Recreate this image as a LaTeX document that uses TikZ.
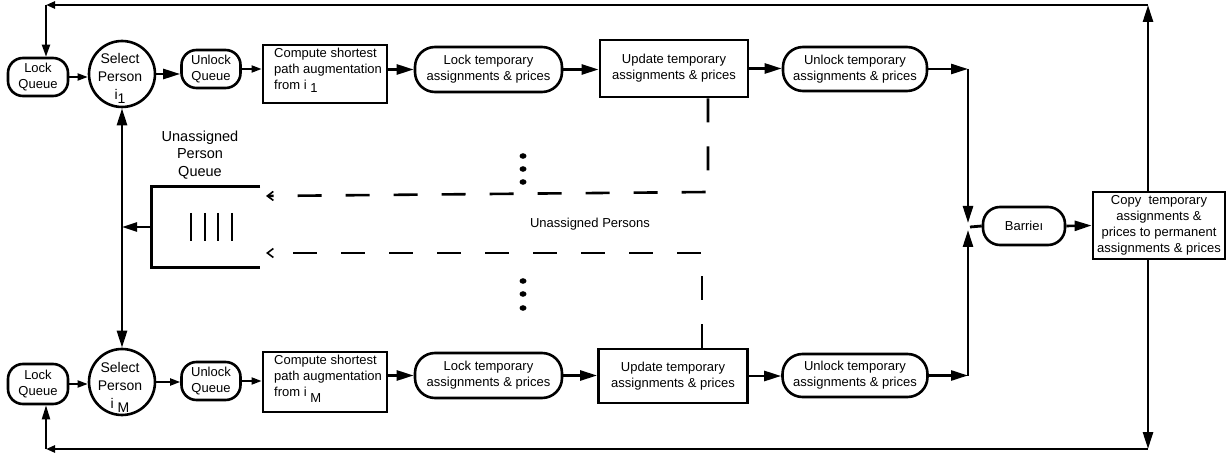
\documentclass[tikz,border=0pt]{standalone}
\usepackage{fontspec}
\setmainfont{Liberation Sans}
\usetikzlibrary{arrows.meta}

\begin{document}
\begin{tikzpicture}[x=1pt,y=-1pt,
  every node/.style={font=\fontsize{13}{16}\selectfont, inner sep=0pt, align=center},
  pill/.style={draw, line width=2.6pt, rounded corners=#1},
  pill/.default=18pt,
  rect/.style={draw, line width=2.8pt},
  circ/.style={draw, circle, line width=2.6pt, minimum size=66pt},
  ctext/.style={anchor=north, font=\fontsize{14}{18}\selectfont},
  link/.style={line width=2.6pt, -{Triangle[length=17pt,width=10pt]}},
  thinlink/.style={line width=1.8pt, -{Triangle[length=10pt,width=7pt]}},
  flow/.style={line width=2.8pt},
  dashflow/.style={line width=2.6pt, dash pattern=on 24pt off 24pt,
    -{Straight Barb[length=6pt,width=9pt,line width=1.6pt]}},
  dot/.style={fill=black}
]
\path[fill=white] (0,0) rectangle (1231,454);
\useasboundingbox (0,0) rectangle (1231,454);

% ---------- first processor (top row) ----------
\node[pill=15pt, minimum width=60pt, minimum height=38pt] (lq1) at (38,77) {Lock\\Queue};
\node[circ] (sp1) at (122,74) {};
\node[ctext] (sp1t) at (120,53) {Select\\Person\\i\raisebox{-4pt}{1}};
\node[pill=15pt, minimum width=59pt, minimum height=38pt] (uq1) at (211,69) {Unlock\\Queue};
\node[rect, minimum width=124pt, minimum height=58pt] (cp1) at (325,74) {};
\node[anchor=north west, align=left] (cp1t) at (274,48) {Compute shortest\\path augmentation\\from i \raisebox{-3pt}{1}};
\node[pill=20pt, minimum width=147pt, minimum height=45pt] (lt1) at (488.5,69.5) {Lock temporary\\assignments \& prices};
\node[rect, minimum width=148pt, minimum height=57pt] (ut1) at (674,68.5) {Update temporary\\assignments \& prices};
\node[pill=20pt, minimum width=144pt, minimum height=44pt] (nt1) at (855,69) {Unlock temporary\\assignments \& prices};

% ---------- M-th processor (bottom row) ----------
\node[pill=15pt, minimum width=60pt, minimum height=40pt] (lq2) at (38,384) {Lock\\Queue};
\node[circ] (sp2) at (122,382) {};
\node[ctext] (sp2t) at (120,362) {Select\\Person\\i \raisebox{-4pt}{M}};
\node[pill=15pt, minimum width=59pt, minimum height=38pt] (uq2) at (211,381) {Unlock\\Queue};
\node[rect, minimum width=124pt, minimum height=60pt] (cp2) at (325,382) {};
\node[anchor=north west, align=left] (cp2t) at (274,355) {Compute shortest\\path augmentation\\from i \raisebox{-6pt}{M}};
\node[pill=20pt, minimum width=147pt, minimum height=45pt] (lt2) at (488.5,375.5) {Lock temporary\\assignments \& prices};
\node[rect, minimum width=149pt, minimum height=54pt] (ut2) at (673,376) {Update temporary\\assignments \& prices};
\node[pill=20pt, minimum width=145pt, minimum height=43pt] (nt2) at (855,375.5) {Unlock temporary\\assignments \& prices};

% ---------- synchronisation ----------
\node[pill=17pt, minimum width=82pt, minimum height=38pt] (bar) at (1024,226) {Barrieı};
\node[rect, minimum width=132pt, minimum height=67pt] (cpy) at (1159,225.5)
  {Copy\ \ temporary\\assignments \&\\prices to permanent\\assignments \& prices};

% ---------- shared queue ----------
\node[minimum width=108pt, minimum height=80pt] (queue) at (206,227) {};
\node[font=\fontsize{14.5}{17.5}\selectfont] (qlabel) at (200,155) {Unassigned\\Person\\Queue};
\node (ulabel) at (590,224) {Unassigned Persons};

\draw[flow] (queue.north east) -- (queue.north west) -- (queue.south west) -- (queue.south east);
\foreach \x in {191,205,218,232} \draw[line width=2.6pt] (\x,213) -- (\x,241);

% ---------- row connectors ----------
\draw[thinlink] (lq1.east) -- (lq1.east -| sp1.west);
\draw[link] (sp1.east) -- (sp1.east -| uq1.west);
\draw[thinlink] (uq1.east) -- (uq1.east -| cp1.west);
\draw[link] (lt1.west -| cp1.east) -- (lt1.west);
\draw[link] (lt1.east) -- (lt1.east -| ut1.west);
\draw[link] (ut1.east) -- (ut1.east -| nt1.west);

\draw[thinlink] (lq2.east) -- (lq2.east -| sp2.west);
\draw[thinlink] (sp2.east) -- (sp2.east -| uq2.west);
\draw[thinlink] (uq2.east) -- (uq2.east -| cp2.west);
\draw[link] (lt2.west -| cp2.east) -- (lt2.west);
\draw[link] (lt2.east) -- (lt2.east -| ut2.west);
\draw[link] (ut2.east) -- (ut2.east -| nt2.west);

% ---------- join at the barrier ----------
\coordinate (jn) at (968,227);
\draw[link] (nt1.east) -- (nt1.east -| jn);
\draw[link] (nt1.east -| jn) -- ([yshift=4pt]jn);
\draw[link] (nt2.east) -- (nt2.east -| jn);
\draw[link] (nt2.east -| jn) -- ([yshift=-3pt]jn);
\draw[flow] ([xshift=2pt]jn) -- (bar.west);
\draw[link] (bar.east) -- (cpy.west);

% ---------- feedback loops ----------
\coordinate (rt) at (1148,5);
\coordinate (rb) at (1148,449);
\coordinate (ltc) at (46,5);
\coordinate (lbc) at (46,449);
\draw[link] (cpy.north -| rt) -- (rt);
\draw[link] (cpy.south -| rb) -- (rb);
\draw[flow, -{Triangle[length=9pt,width=7pt]}] (rt) -- (ltc);
\draw[flow, -{Triangle[length=9pt,width=7pt]}] (rb) -- (lbc);
\draw[line width=2pt, -{Triangle[length=12pt,width=8pt]}] (ltc) -- (ltc |- lq1.north);
\draw[line width=2pt, -{Triangle[length=14pt,width=8pt]}] (lbc) -- (lbc |- lq2.south);

% ---------- queue access ----------
\draw[line width=2.6pt, {Triangle[length=17pt,width=10pt]}-{Triangle[length=17pt,width=10pt]}] (sp1.south) -- (sp2.north);
\draw[line width=2.2pt, -{Triangle[length=15pt,width=9pt]}] (queue.west) -- (queue.west -| sp1.south);

% ---------- unassigned persons returned to the queue ----------
\coordinate (u1) at (708,192);
\coordinate (u2) at (266,196);
\coordinate (w1) at (702,253);
\coordinate (w2) at (266,253);
\draw[dashflow] ([xshift=34pt]ut1.south) -- (u1) -- (u2);
\draw[dashflow] ([xshift=29pt]ut2.north) -- (w1) -- (w2);

\foreach \y in {156,169,182,281,294,308}
  \fill[dot] (523,\y) ellipse [x radius=3.5pt, y radius=2.8pt];
\end{tikzpicture}
\end{document}
